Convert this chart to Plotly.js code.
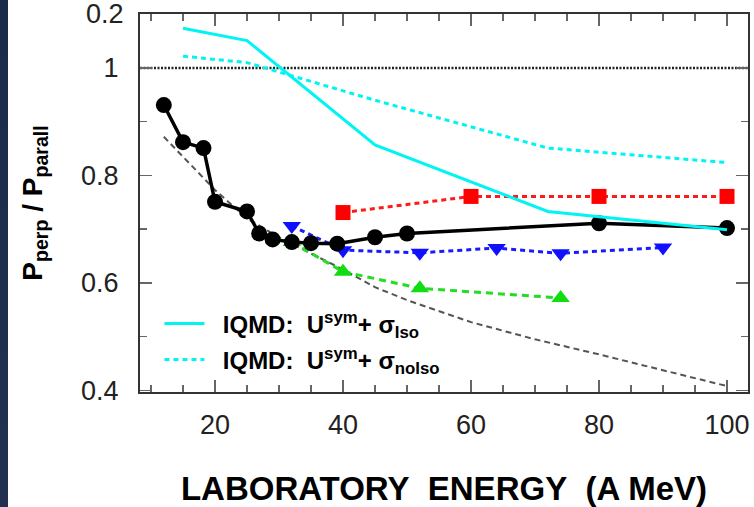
<!DOCTYPE html>
<html>
<head>
<meta charset="utf-8">
<script src="https://cdn.plot.ly/plotly-3.0.1.min.js"></script>
<style>
  html, body { margin: 0; padding: 0; background: #fff; }
  #chart { width: 754px; height: 507px; }
  #strip { position: absolute; left: 0; top: 0; width: 8px; height: 507px;
           background: linear-gradient(#1d2b4b, #22314f); z-index: 5; }
</style>
</head>
<body>
<div id="strip"></div>
<div id="chart"></div>
<script>
// ---- data ----
const expE      = [12, 15, 18.2, 20, 25, 26.9, 29, 32, 35, 39.1, 45, 50, 80, 100];
const expRatio  = [0.931, 0.862, 0.851, 0.751, 0.733, 0.692, 0.681, 0.676, 0.674, 0.673, 0.685, 0.692, 0.711, 0.702];

const redE      = [40, 60, 80, 100];
const redRatio  = [0.731, 0.761, 0.761, 0.761];

const blueE     = [32, 40, 52, 64, 74, 90];
const blueRatio = [0.706, 0.661, 0.656, 0.665, 0.655, 0.666];

const greenE     = [32, 40, 52, 74];
const greenRatio = [0.676, 0.621, 0.590, 0.572];

const isoE      = [15, 25, 45, 72, 100];
const isoRatio  = [1.074, 1.051, 0.857, 0.733, 0.699];

const noIsoE     = [15, 25, 45, 72, 100];
const noIsoRatio = [1.022, 1.010, 0.940, 0.851, 0.824];

const fitE      = [12, 15, 20, 25, 30, 35, 40, 45, 50, 60, 70, 80, 90, 100];
const fitRatio  = [0.872, 0.835, 0.773, 0.720, 0.685, 0.655, 0.625, 0.592, 0.568, 0.527, 0.495, 0.467, 0.437, 0.408];

const refLevel = 1;

const xTickVals = [20, 40, 60, 80, 100];
const xTickText = ['20', '40', '60', '80', '100'];
const yTickVals = [0.4, 0.6, 0.8, 1];
const yTickText = ['0.4', '0.6', '0.8', '1'];
const topTickValue = 1.1;
const topTickText = '0.2';

const legendIso   = '<b>&nbsp;&nbsp;IQMD:&nbsp; U<sup>sym</sup>+ σ<sub>Iso</sub></b>';
const legendNoIso = '<b>&nbsp;&nbsp;IQMD:&nbsp; U<sup>sym</sup>+ σ<sub>noIso</sub></b>';
const xTitle = '<b>LABORATORY&nbsp; ENERGY&nbsp; (A MeV)</b>';
const yTitle = '<b>P<sub>perp</sub> / P<sub>parall</sub></b>';

// ---- traces ----
const traces = [
  { x: fitE, y: fitRatio, mode: 'lines', showlegend: false,
    line: { color: '#555', width: 2, dash: '6px,4px' } },
  { x: redE, y: redRatio, mode: 'lines+markers', showlegend: false,
    line: { color: '#ff1a1a', width: 3, dash: '5px,4px' },
    marker: { symbol: 'square', size: 15, color: '#ff0000' } },
  { x: blueE, y: blueRatio, mode: 'lines+markers', showlegend: false,
    line: { color: '#1a1aff', width: 3, dash: '5px,4px' },
    marker: { symbol: 'triangle-down', size: 16, color: '#1010ff' } },
  { x: greenE, y: greenRatio, mode: 'lines+markers', showlegend: false,
    line: { color: '#22dd22', width: 3, dash: '7px,5px' },
    marker: { symbol: 'triangle-up', size: 16, color: '#11dd11' } },
  { x: expE, y: expRatio, mode: 'lines+markers', showlegend: false,
    line: { color: '#000', width: 3.5 },
    marker: { symbol: 'circle', size: 16, color: '#000' } },
  { x: isoE, y: isoRatio, mode: 'lines', name: legendIso, legendgroup: 'a',
    line: { color: '#00f4f4', width: 3 } },
  { x: noIsoE, y: noIsoRatio, mode: 'lines', name: legendNoIso, legendgroup: 'b',
    line: { color: '#00f4f4', width: 3, dash: '5px,4px' } }
];

const axisCommon = {
  showgrid: false, zeroline: false,
  showline: true, linecolor: '#333', linewidth: 2, mirror: 'allticks',
  ticks: 'inside', ticklen: 12, tickwidth: 1.5, tickcolor: '#666',
  tickfont: { family: 'Liberation Sans, Arial, sans-serif', size: 27, color: '#222' }
};

const layout = {
  width: 754, height: 507,
  margin: { l: 140, r: 6, t: 14, b: 115 },
  paper_bgcolor: '#fff', plot_bgcolor: '#fff',
  font: { family: 'Liberation Sans, Arial, sans-serif', color: '#000' },
  xaxis: Object.assign({}, axisCommon, {
    range: [8.28, 103.28],
    tickmode: 'array', tickvals: xTickVals, ticktext: xTickText,
    ticklabelstandoff: 8,
    minor: { tickmode: 'linear', tick0: 0, dtick: 5, ticklen: 7, ticks: 'inside', tickcolor: '#666', tickwidth: 1.5 },
    title: { text: xTitle, font: { size: 33, color: '#000' }, standoff: 44 },
    automargin: false
  }),
  yaxis: Object.assign({}, axisCommon, {
    range: [0.397, 1.1005],
    tickmode: 'array', tickvals: yTickVals, ticktext: yTickText,
    ticklabelstandoff: 14,
    minor: { tickmode: 'linear', tick0: 0, dtick: 0.1, ticklen: 7, ticks: 'inside', tickcolor: '#666', tickwidth: 1.5 },
    title: { text: yTitle, font: { size: 28, color: '#000' }, standoff: 30 },
    automargin: false
  }),
  shapes: [
    { type: 'line', xref: 'paper', x0: 0, x1: 1, yref: 'y', y0: refLevel, y1: refLevel,
      line: { color: '#222', width: 2.5, dash: '2px,1.5px' }, layer: 'below' }
  ],
  annotations: [
    { xref: 'paper', x: 0, xanchor: 'right', xshift: -14,
      yref: 'y', y: topTickValue, yanchor: 'middle', yshift: 0,
      text: topTickText, showarrow: false,
      font: { family: 'Liberation Sans, Arial, sans-serif', size: 27, color: '#222' } }
  ],
  legend: {
    x: 0.032, xanchor: 'left', y: 0.24, yanchor: 'top',
    bgcolor: 'rgba(0,0,0,0)', borderwidth: 0,
    traceorder: 'grouped', tracegroupgap: 2,
    itemwidth: 40,
    font: { family: 'Liberation Sans, Arial, sans-serif', size: 24, color: '#000' }
  },
  showlegend: true
};

Plotly.newPlot('chart', traces, layout, { displayModeBar: false, staticPlot: true });
</script>
</body>
</html>
